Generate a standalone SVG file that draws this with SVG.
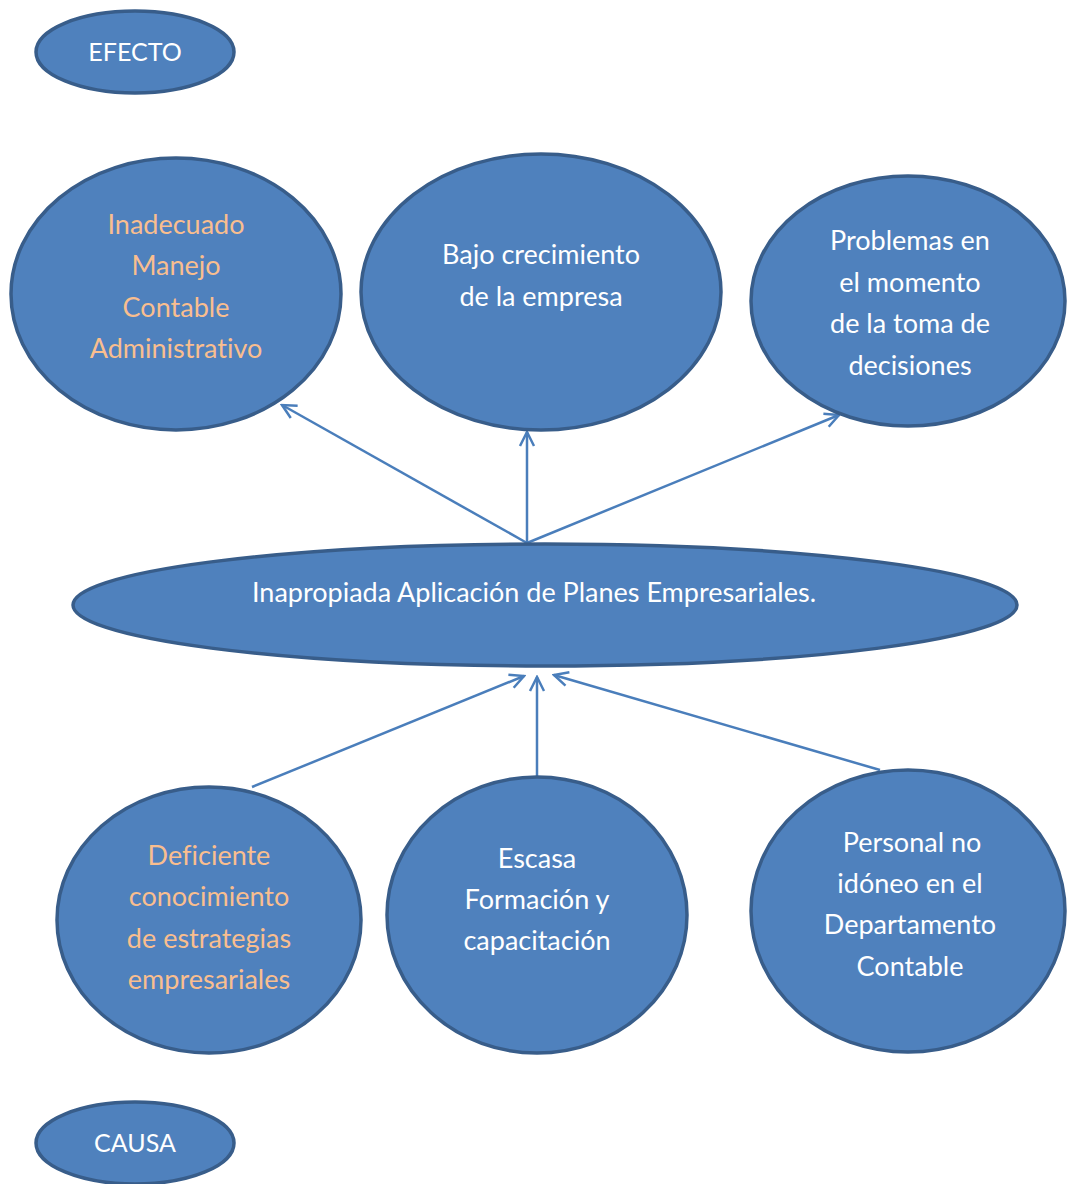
<svg xmlns="http://www.w3.org/2000/svg" width="1068" height="1184" viewBox="0 0 1068 1184">
<style>
.n{fill:#4F81BD;stroke:#385D8A;stroke-width:3.5}
.t{font-family:Lato,"Open Sans","Liberation Sans",sans-serif;font-size:27px;fill:#FFFFFF;text-anchor:middle;font-variant-ligatures:none}
.s{font-size:25px}
.o{fill:#F9BE8F}
.c{stroke:#4A7EBB;stroke-width:2.5;fill:none;marker-end:url(#ah)}
</style>
<defs>
<marker id="ah" viewBox="0 0 20 20" refX="18" refY="10" markerWidth="20" markerHeight="20" markerUnits="userSpaceOnUse" orient="auto">
<path d="M4,3 L18,10 L4,17" fill="none" stroke="#4A7EBB" stroke-width="2.5"/>
</marker>
</defs>
<rect width="1068" height="1184" fill="#FFFFFF"/>
<g id="connectors">
<line class="c" x1="527" y1="543" x2="282" y2="405"/>
<line class="c" x1="527" y1="543" x2="527" y2="432"/>
<line class="c" x1="527" y1="543" x2="839" y2="415"/>
<line class="c" x1="252" y1="787" x2="524" y2="676"/>
<line class="c" x1="537" y1="776" x2="537" y2="677"/>
<line class="c" x1="880" y1="770" x2="554" y2="675"/>
</g>
<g id="efecto">
<ellipse class="n" cx="135" cy="52" rx="99" ry="41"/>
<text class="t s" x="135" y="61">EFECTO</text>
</g>
<g id="e1">
<ellipse class="n" cx="176" cy="294" rx="165" ry="136"/>
<text class="t o" x="176" y="234">Inadecuado</text>
<text class="t o" x="176" y="275">Manejo</text>
<text class="t o" x="176" y="317">Contable</text>
<text class="t o" x="176" y="358">Administrativo</text>
</g>
<g id="e2">
<ellipse class="n" cx="541" cy="292" rx="180" ry="138"/>
<text class="t" x="541" y="264">Bajo crecimiento</text>
<text class="t" x="541" y="306">de la empresa</text>
</g>
<g id="e3">
<ellipse class="n" cx="908" cy="301" rx="157" ry="125"/>
<text class="t" x="910" y="250">Problemas en</text>
<text class="t" x="910" y="292">el momento</text>
<text class="t" x="910" y="333">de la toma de</text>
<text class="t" x="910" y="375">decisiones</text>
</g>
<g id="central">
<ellipse class="n" cx="545" cy="605" rx="472" ry="61"/>
<text class="t" x="534" y="602">Inapropiada Aplicación de Planes Empresariales.</text>
</g>
<g id="c1">
<ellipse class="n" cx="209" cy="920" rx="152" ry="133"/>
<text class="t o" x="209" y="865">Deficiente</text>
<text class="t o" x="209" y="906">conocimiento</text>
<text class="t o" x="209" y="948">de estrategias</text>
<text class="t o" x="209" y="989">empresariales</text>
</g>
<g id="c2">
<ellipse class="n" cx="537" cy="915" rx="150" ry="138"/>
<text class="t" x="537" y="868">Escasa</text>
<text class="t" x="537" y="909">Formación y</text>
<text class="t" x="537" y="950">capacitación</text>
</g>
<g id="c3">
<ellipse class="n" cx="908" cy="911" rx="157" ry="141"/>
<text class="t" x="912" y="852">Personal no</text>
<text class="t" x="910" y="893">idóneo en el</text>
<text class="t" x="910" y="934">Departamento</text>
<text class="t" x="910" y="976">Contable</text>
</g>
<g id="causa">
<ellipse class="n" cx="135" cy="1143" rx="99" ry="41"/>
<text class="t s" x="135" y="1152">CAUSA</text>
</g>
</svg>
